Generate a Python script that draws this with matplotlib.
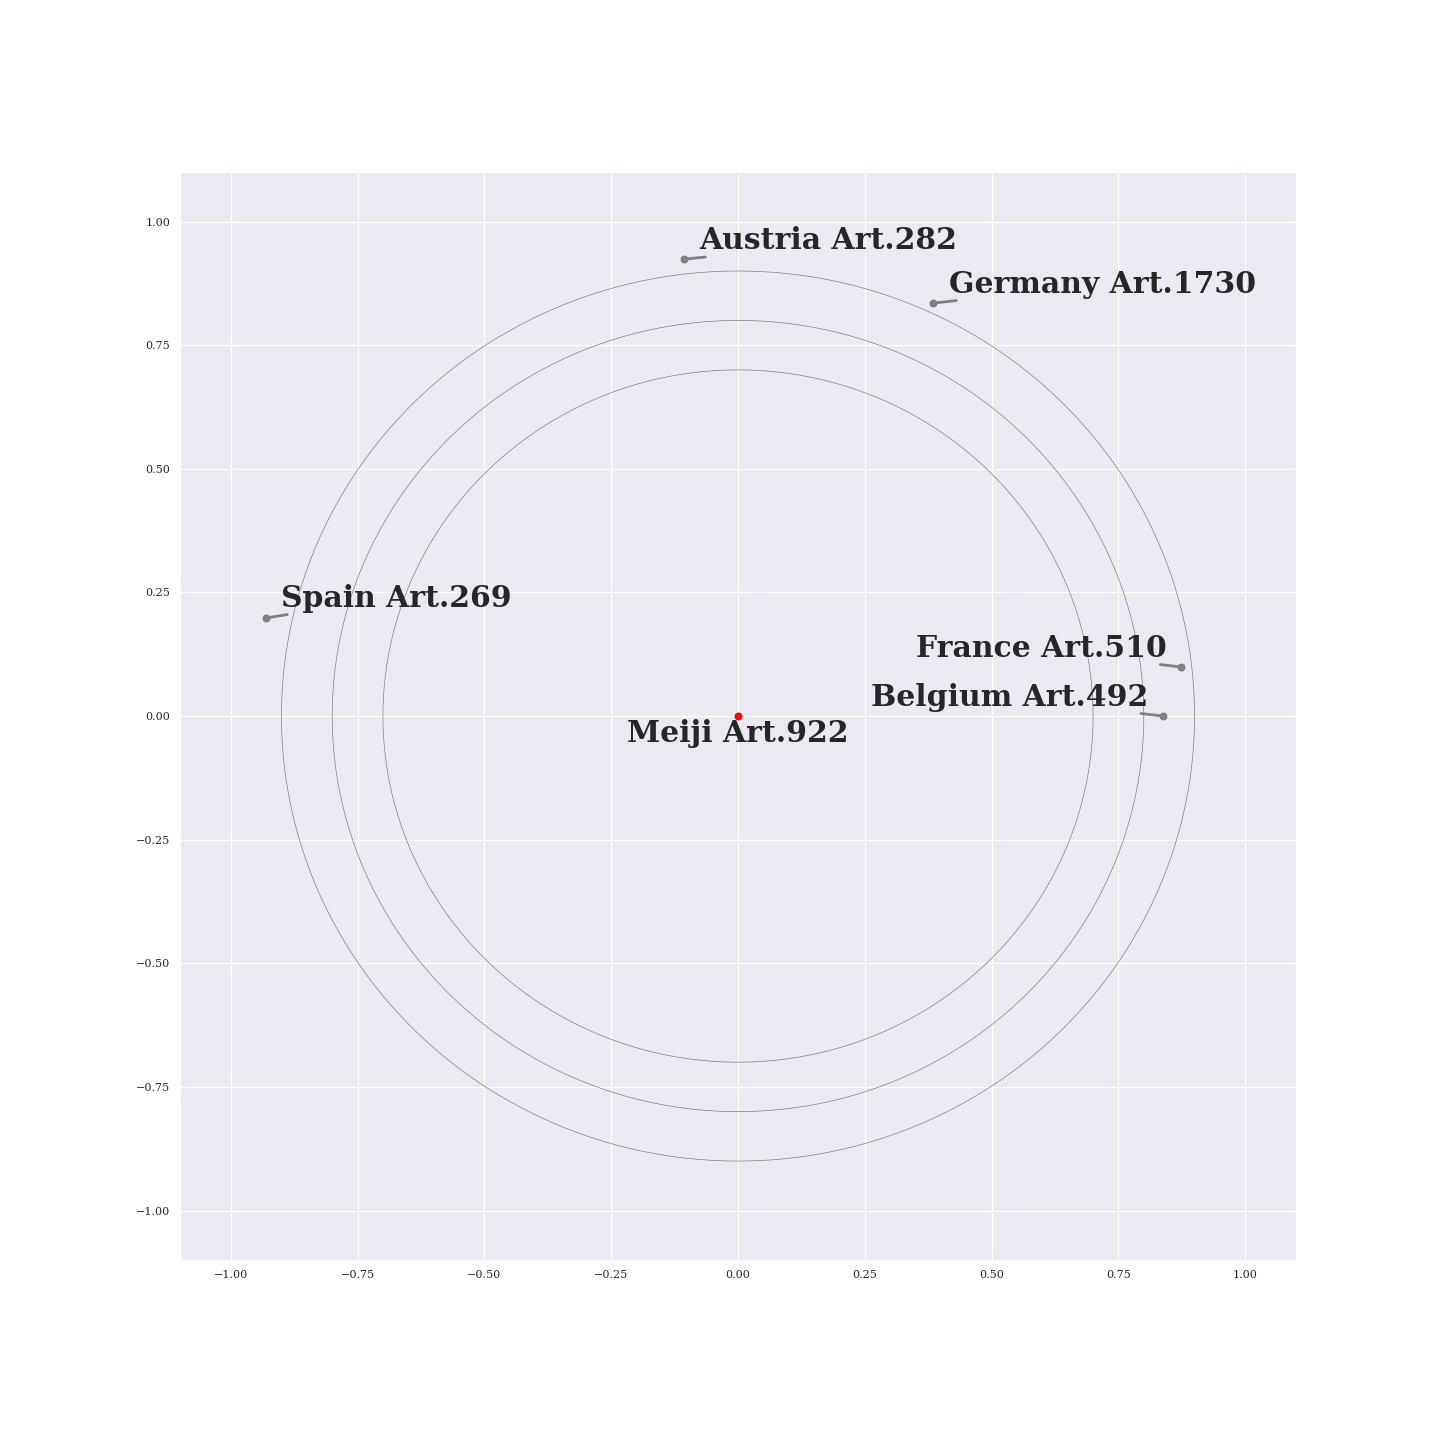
import numpy as np
import matplotlib
matplotlib.use("Agg")
import matplotlib.pyplot as plt
import seaborn as sns

sns.set_style("darkgrid")
plt.rcParams['font.family'] = ['DejaVu Serif']

names = ["Meiji Art.922", "Belgium Art.492", "France Art.510", "Germany Art.1730", "Austria Art.282", "Spain Art.269"]
xs = [0.0, 0.838, 0.874, 0.385, -0.1065, -0.931]
ys = [0.0, 0.0, 0.099, 0.835, 0.924, 0.198]
text_x = [0.0, 0.808, 0.845, 0.415, -0.077, -0.90]
text_y = [-0.036, 0.038, 0.137, 0.873, 0.961, 0.238]
text_ha = ["center", "right", "right", "left", "left", "left"]
radii = [0.7, 0.8, 0.9]

fig = plt.figure(figsize=(14.4, 14.4), dpi=100)
ax = fig.add_axes([0.125, 0.125, 0.775, 0.7555])

t = np.linspace(0, 2 * np.pi, 400)
for r in radii:
    ax.plot(r * np.cos(t), r * np.sin(t), color="gray", lw=0.5)

for i, (n, x, y) in enumerate(zip(names, xs, ys)):
    c = "red" if i == 0 else "gray"
    ax.scatter([x], [y], color=c, s=22, zorder=3)
    if i == 0:
        ax.text(text_x[i], text_y[i], n, fontsize=21.5, fontweight="bold", ha="center", va="center", color="#262626")
    else:
        rp = (0.025, -0.06) if text_ha[i] == "left" else (0.975, -0.06)
        ax.annotate(n, xy=(x, y), xytext=(text_x[i], text_y[i]), fontsize=21.5, fontweight="bold",
                    ha=text_ha[i], va="center", color="#262626",
                    arrowprops=dict(arrowstyle="-", color="gray", lw=2, shrinkA=0, shrinkB=0,
                                    patchA=None, relpos=rp))

ax.set_xlim(-1.1, 1.1)
ax.set_ylim(-1.1, 1.1)
ax.set_xticks([-1.0, -0.75, -0.5, -0.25, 0.0, 0.25, 0.5, 0.75, 1.0])
ax.set_yticks([-1.0, -0.75, -0.5, -0.25, 0.0, 0.25, 0.5, 0.75, 1.0])
ax.tick_params(labelsize=8)

fig.savefig("out.png", dpi=100)
